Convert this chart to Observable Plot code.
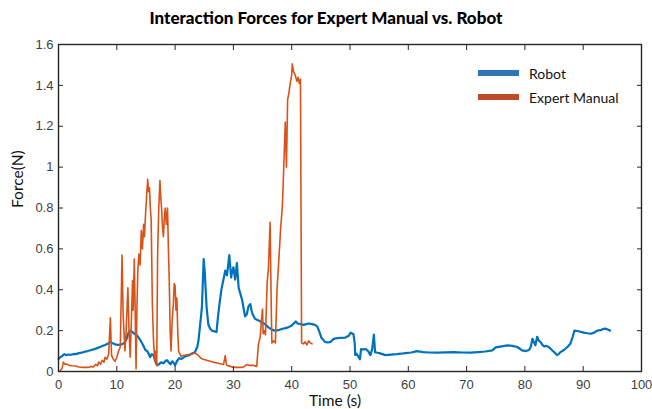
<!DOCTYPE html>
<html><head><meta charset="utf-8">
<script src="https://cdn.jsdelivr.net/npm/d3@7"></script>
<script src="https://cdn.jsdelivr.net/npm/@observablehq/plot@0.6"></script>
<style>
body{margin:0;background:#fff}
#wrap{position:relative;width:652px;height:409px;font-family:Lato,"Open Sans",sans-serif;overflow:hidden}
#title{height:32px;box-sizing:border-box;padding-top:10px;line-height:16px;font-size:17px;font-weight:900;text-align:center;color:#000;white-space:nowrap}
#legend{position:absolute;left:478px;top:61px;font-size:14px;color:#111}
#legend .row{display:flex;align-items:center;height:24px}
#legend .sw{width:41px;height:6px;margin-right:10px}
svg{display:block}
</style>
</head><body>
<div id="wrap">
  <div id="title"></div>
  <div id="chart"></div>
  <div id="legend"></div>
</div>
<script>
const titleText = "Interaction Forces for Expert Manual vs. Robot";
const xLabel = "Time (s)";
const yLabel = "Force(N)";
const seriesNames = ["Robot", "Expert Manual"];
const lineColors = ["#0072BD", "#D95319"];
const legendColors = ["#2E75B6", "#BF4B28"];

const xTicks = [0,10,20,30,40,50,60,70,80,90,100];
const xTickLabels = ["0","10","20","30","40","50","60","70","80","90","100"];
const yTicks = [0,0.2,0.4,0.6,0.8,1,1.2,1.4,1.6];
const yTickLabels = ["0","0.2","0.4","0.6","0.8","1","1.2","1.4","1.6"];

const robotTime = [0,0.3,0.6,1.0,1.3,1.7,2.2,2.6,3.0,3.5,4.0,4.5,5.0,5.5,6.0,6.5,7.0,7.5,8.0,8.5,8.9,9.2,9.7,10.2,10.8,11.3,11.7,12.0,12.3,12.6,13.0,13.5,14.0,14.5,14.9,15.2,15.5,15.7,16.0,16.3,16.6,16.9,17.2,17.6,18.0,18.3,18.6,18.9,19.2,19.5,19.8,20.0,20.3,20.7,21.1,21.6,22.3,22.9,23.4,23.8,24.0,24.3,24.6,24.9,25.1,25.4,25.7,26.0,26.3,27.1,27.4,27.7,28.0,28.3,28.6,28.9,29.1,29.3,29.6,29.8,30.0,30.3,30.6,30.9,31.2,31.5,31.8,32.0,32.3,32.6,32.9,33.1,33.3,33.7,34.3,34.9,35.5,36.0,36.6,37.1,37.7,38.3,38.9,39.4,40.0,40.7,41.0,41.4,42.0,42.5,42.9,43.5,44.0,44.4,44.8,45.1,45.7,46.2,46.7,47.2,47.8,48.5,49.2,49.8,50.1,50.6,50.8,50.9,51.1,51.4,51.7,51.9,52.3,52.7,53.1,53.5,53.8,54.1,54.3,54.7,55.0,55.6,56.1,57.0,58.0,58.7,59.5,60.5,61.5,62.5,63.5,65.0,66.5,67.8,69.2,70.7,72.0,73.2,74.4,75.0,75.8,77.0,77.8,78.7,79.2,79.5,80.2,80.7,81.0,81.3,81.6,81.8,82.1,82.4,82.7,83.0,83.3,83.7,84.1,84.7,85.2,85.5,85.8,86.1,86.7,87.3,87.8,88.2,88.5,89.2,90.1,90.7,91.3,91.9,92.4,93.0,93.4,93.8,94.2,94.6];
const robotForce = [0.062,0.07,0.075,0.085,0.08,0.083,0.082,0.086,0.085,0.09,0.092,0.097,0.1,0.104,0.108,0.113,0.118,0.125,0.13,0.137,0.145,0.14,0.133,0.13,0.132,0.14,0.16,0.19,0.2,0.195,0.185,0.175,0.155,0.13,0.105,0.1,0.085,0.07,0.085,0.08,0.05,0.03,0.035,0.045,0.04,0.05,0.055,0.045,0.035,0.05,0.04,0.03,0.05,0.065,0.062,0.072,0.078,0.088,0.094,0.12,0.15,0.23,0.315,0.55,0.48,0.315,0.23,0.21,0.2,0.193,0.28,0.35,0.41,0.45,0.494,0.47,0.52,0.57,0.46,0.49,0.51,0.45,0.53,0.41,0.38,0.35,0.3,0.27,0.28,0.32,0.33,0.3,0.28,0.258,0.25,0.24,0.23,0.216,0.205,0.2,0.202,0.208,0.212,0.216,0.225,0.245,0.235,0.233,0.228,0.232,0.235,0.232,0.228,0.22,0.19,0.165,0.145,0.142,0.145,0.16,0.163,0.165,0.166,0.175,0.19,0.182,0.14,0.08,0.087,0.075,0.06,0.11,0.108,0.11,0.1,0.08,0.11,0.18,0.095,0.092,0.09,0.085,0.08,0.083,0.085,0.087,0.09,0.093,0.1,0.095,0.093,0.092,0.094,0.095,0.093,0.092,0.095,0.098,0.103,0.118,0.122,0.128,0.125,0.12,0.11,0.103,0.1,0.105,0.12,0.16,0.14,0.128,0.17,0.15,0.144,0.13,0.123,0.125,0.12,0.103,0.09,0.08,0.085,0.095,0.105,0.12,0.136,0.17,0.2,0.197,0.19,0.187,0.185,0.19,0.2,0.202,0.208,0.21,0.205,0.2];

const manualTime = [0.3,0.6,0.86,1.1,1.4,1.8,2.3,2.9,3.5,4.2,5.1,5.6,6.0,6.4,6.7,6.9,7.2,7.5,7.8,8.0,8.3,8.6,8.9,9.1,9.4,9.7,10.0,10.3,10.6,10.9,11.1,11.4,11.6,11.9,12.1,12.3,12.5,12.7,12.8,13.0,13.15,13.3,13.45,13.6,13.8,14.0,14.2,14.4,14.6,14.75,14.9,15.1,15.3,15.45,15.6,15.75,15.9,16.1,16.3,16.5,16.7,16.85,17.0,17.2,17.4,17.55,17.7,17.85,18.0,18.15,18.3,18.5,18.7,18.85,19.0,19.15,19.3,19.5,19.7,19.85,20.0,20.15,20.3,20.45,20.6,21.0,21.4,22.1,22.9,23.3,23.7,24.2,24.6,25.1,25.7,26.5,27.4,28.3,28.6,28.8,28.9,29.5,30.0,30.7,31.4,31.9,32.3,32.8,33.4,34.0,34.3,34.6,34.8,35.0,35.1,35.3,35.5,35.8,36.0,36.3,36.5,36.6,36.9,37.2,37.5,37.8,38.1,38.4,38.7,38.9,39.1,39.3,39.5,39.8,40.0,40.1,40.3,40.6,40.8,40.9,41.1,41.3,41.5,41.7,42.0,42.3,42.6,42.9,43.2,43.5];
const manualForce = [0.005,0.015,0.046,0.035,0.037,0.03,0.028,0.027,0.022,0.02,0.02,0.025,0.022,0.035,0.028,0.046,0.035,0.055,0.045,0.07,0.06,0.085,0.263,0.08,0.06,0.05,0.07,0.1,0.12,0.57,0.27,0.1,0.2,0.41,0.2,0.07,0.25,0.445,0.3,0.55,0.3,0.013,0.3,0.494,0.575,0.52,0.69,0.6,0.72,0.66,0.755,0.85,0.94,0.88,0.9,0.8,0.74,0.33,0.15,0.054,0.1,0.03,0.575,0.8,0.934,0.85,0.79,0.7,0.66,0.75,0.8,0.72,0.8,0.6,0.445,0.2,0.1,0.25,0.33,0.43,0.42,0.3,0.36,0.2,0.1,0.075,0.078,0.082,0.086,0.09,0.086,0.072,0.062,0.058,0.053,0.046,0.04,0.034,0.078,0.035,0.03,0.025,0.02,0.02,0.02,0.025,0.034,0.03,0.03,0.025,0.135,0.168,0.25,0.306,0.185,0.2,0.18,0.44,0.5,0.73,0.3,0.14,0.15,0.14,0.41,0.55,0.7,0.81,1.05,1.22,1.0,1.33,1.36,1.42,1.45,1.505,1.47,1.45,1.43,1.42,1.44,1.41,1.43,0.14,0.135,0.145,0.13,0.15,0.14,0.135];

const robot = robotTime.map((t, i) => ({t, f: robotForce[i]}));
const manual = manualTime.map((t, i) => ({t, f: manualForce[i]}));

document.getElementById("title").textContent = titleText;

const chart = Plot.plot({
  width: 652,
  height: 377,
  marginTop: 12,
  marginBottom: 38,
  marginLeft: 58,
  marginRight: 11,
  style: {fontFamily: "'Liberation Sans', Arial, sans-serif", fontSize: "13px", color: "#404040", background: "#fff"},
  x: {domain: [0, 100]},
  y: {domain: [0, 1.6]},
  marks: [
    Plot.line(robot, {x: "t", y: "f", stroke: lineColors[0], strokeWidth: 2.2}),
    Plot.line(manual, {x: "t", y: "f", stroke: lineColors[1], strokeWidth: 1.6}),
    Plot.frame({stroke: "#262626", strokeWidth: 1.4}),
    Plot.axisX(xTicks, {anchor: "bottom", tickSize: -5, tickPadding: 13, stroke: "#262626", tickFormat: d => xTickLabels[xTicks.indexOf(d)], label: null}),
    Plot.axisX(xTicks, {anchor: "top", tickSize: -5, stroke: "#262626", tickFormat: () => "", label: null}),
    Plot.axisY(yTicks, {anchor: "left", tickSize: -5, tickPadding: 10, stroke: "#262626", tickFormat: d => yTickLabels[yTicks.indexOf(d)], label: null}),
    Plot.axisY(yTicks, {anchor: "right", tickSize: -5, stroke: "#262626", tickFormat: () => "", label: null}),
    Plot.text([xLabel], {text: d => d, frameAnchor: "bottom", dx: -15, dy: 30, lineAnchor: "middle", fontFamily: "Lato, sans-serif", fontSize: 15.5, fill: "#111"}),
    Plot.text([yLabel], {text: d => d, frameAnchor: "left", dx: -40, rotate: -90, lineAnchor: "middle", fontFamily: "Lato, sans-serif", fontSize: 15.5, fill: "#111"})
  ]
});
document.getElementById("chart").appendChild(chart);

const legend = document.getElementById("legend");
seriesNames.forEach((name, i) => {
  const row = document.createElement("div");
  row.className = "row";
  const sw = document.createElement("div");
  sw.className = "sw";
  sw.style.background = legendColors[i];
  const label = document.createElement("span");
  label.textContent = name;
  row.appendChild(sw);
  row.appendChild(label);
  legend.appendChild(row);
});
</script>
</body></html>
